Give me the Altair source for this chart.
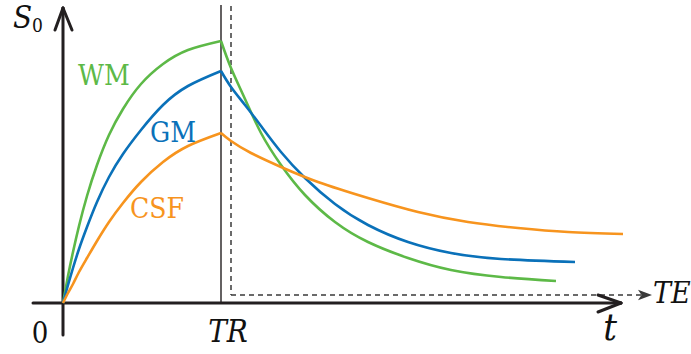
import altair as alt
import pandas as pd

# Signal curves (arbitrary units): recovery up to TR, then decay after TR
TR = 158

rise_t = [0, 5, 10, 16, 24, 34, 46, 60, 78, 100, 125, 158]
wm_rise_s = [0, 27, 51, 77, 107, 138, 168, 194, 219, 239, 253, 262]
gm_rise_s = [0, 18, 35, 54, 76, 101, 126, 149, 173, 198, 217, 232]
csf_rise_s = [0, 10, 19, 31, 45, 62, 81, 100, 121, 141, 157, 170]

wm_decay_t = [158, 168, 182, 198, 218, 242, 272, 305, 345, 388, 438, 493]
wm_decay_s = [262, 235, 204, 170, 138, 108, 81, 61, 45, 33, 26, 22]

gm_decay_t = [158, 168, 182, 198, 218, 242, 272, 305, 345, 388, 438, 512]
gm_decay_s = [232, 216, 198, 177, 151, 125, 99, 78, 61, 50, 44, 41]

csf_decay_t = [158, 168, 188, 218, 255, 305, 355, 405, 455, 505, 560]
csf_decay_s = [170, 162, 150, 136, 121, 105, 91, 81, 75, 71, 69]

tissues = ["WM", "GM", "CSF"]
colors = ["#5db947", "#0a71b9", "#f7941e"]

rows = []
for name, segs in [
    ("WM", [("rise", rise_t, wm_rise_s), ("decay", wm_decay_t, wm_decay_s)]),
    ("GM", [("rise", rise_t, gm_rise_s), ("decay", gm_decay_t, gm_decay_s)]),
    ("CSF", [("rise", rise_t, csf_rise_s), ("decay", csf_decay_t, csf_decay_s)]),
]:
    for phase, ts, ss in segs:
        for i, (t, s) in enumerate(zip(ts, ss)):
            rows.append({"tissue": name, "seg": name + phase, "t": t, "s": s, "i": i})
curves = pd.DataFrame(rows)

X = alt.X("t:Q", scale=alt.Scale(domain=[-63, 628], nice=False, zero=False), axis=None)
Y = alt.Y("s:Q", scale=alt.Scale(domain=[-51, 303], nice=False, zero=False), axis=None)
AXC = "#231f20"
TXT = "#111111"
SERIF = "DejaVu Serif Condensed"

# Axis lines and open arrow heads
axes_df = pd.DataFrame([
    {"t": 0, "s": -32, "t2": 0, "s2": 295},
    {"t": -8, "s": 273, "t2": 0, "s2": 295},
    {"t": 9, "s": 273, "t2": 0, "s2": 295},
    {"t": -30, "s": 0, "t2": 558, "s2": 0},
    {"t": 535, "s": 8, "t2": 558, "s2": 0},
    {"t": 535, "s": -9, "t2": 558, "s2": 0},
])
axes = alt.Chart(axes_df).mark_rule(color=AXC, strokeWidth=3, strokeCap="round").encode(
    x=X, y=Y, x2="t2:Q", y2="s2:Q"
)

# Vertical TR marker
tr_df = pd.DataFrame([{"t": TR, "s": 0, "t2": TR, "s2": 298}])
tr_line = alt.Chart(tr_df).mark_rule(color=AXC, strokeWidth=1.4).encode(
    x=X, y=Y, x2="t2:Q", y2="s2:Q"
)

# Dashed TE axis with a filled arrow head
te_df = pd.DataFrame([
    {"t": 168, "s": 297, "t2": 168, "s2": 8},
    {"t": 168, "s": 8, "t2": 580, "s2": 8},
])
te_axis = alt.Chart(te_df).mark_rule(color="#3a3a3a", strokeWidth=1.5, strokeDash=[5, 4]).encode(
    x=X, y=Y, x2="t2:Q", y2="s2:Q"
)
te_head = alt.Chart(pd.DataFrame([{"t": 582, "s": 8}])).mark_point(
    shape="M 1 0 L -1 -0.75 L -0.5 0 L -1 0.75 Z", size=196, filled=True,
    color="#3a3a3a", opacity=1,
).encode(x=X, y=Y)

lines = alt.Chart(curves).mark_line(strokeWidth=2.6, interpolate="natural").encode(
    x=X, y=Y, detail="seg:N", order="i:Q",
    color=alt.Color("tissue:N", scale=alt.Scale(domain=tissues, range=colors), legend=None),
)


def txt(t, s, label, size, color, style="normal", align="left"):
    return alt.Chart(pd.DataFrame([{"t": t, "s": s, "label": label}])).mark_text(
        font=SERIF, fontSize=size, fontStyle=style, align=align, baseline="alphabetic", color=color
    ).encode(x=X, y=Y, text="label:N")


texts = [
    txt(15, 218, "WM", 28, colors[0]),
    txt(87, 161, "GM", 28, colors[1]),
    txt(67, 85, "CSF", 28, colors[2]),
    txt(-50, 275, "S", 31, TXT, "italic"),
    txt(590, 0, "TE", 30, TXT, "italic"),
    txt(165, -39, "TR", 31, TXT, "italic", "center"),
    txt(547, -37, "t", 38, TXT, "italic", "center"),
    txt(-31, 271, "0", 19, TXT),
    txt(-23, -40, "0", 29, TXT, align="center"),
]

chart = alt.layer(tr_line, te_axis, te_head, axes, lines, *texts).properties(
    width=691, height=354, autosize="none", padding=0, background="white"
).configure_view(stroke=None)

chart.save("out.html", embed_options={"renderer": "svg", "actions": False})
